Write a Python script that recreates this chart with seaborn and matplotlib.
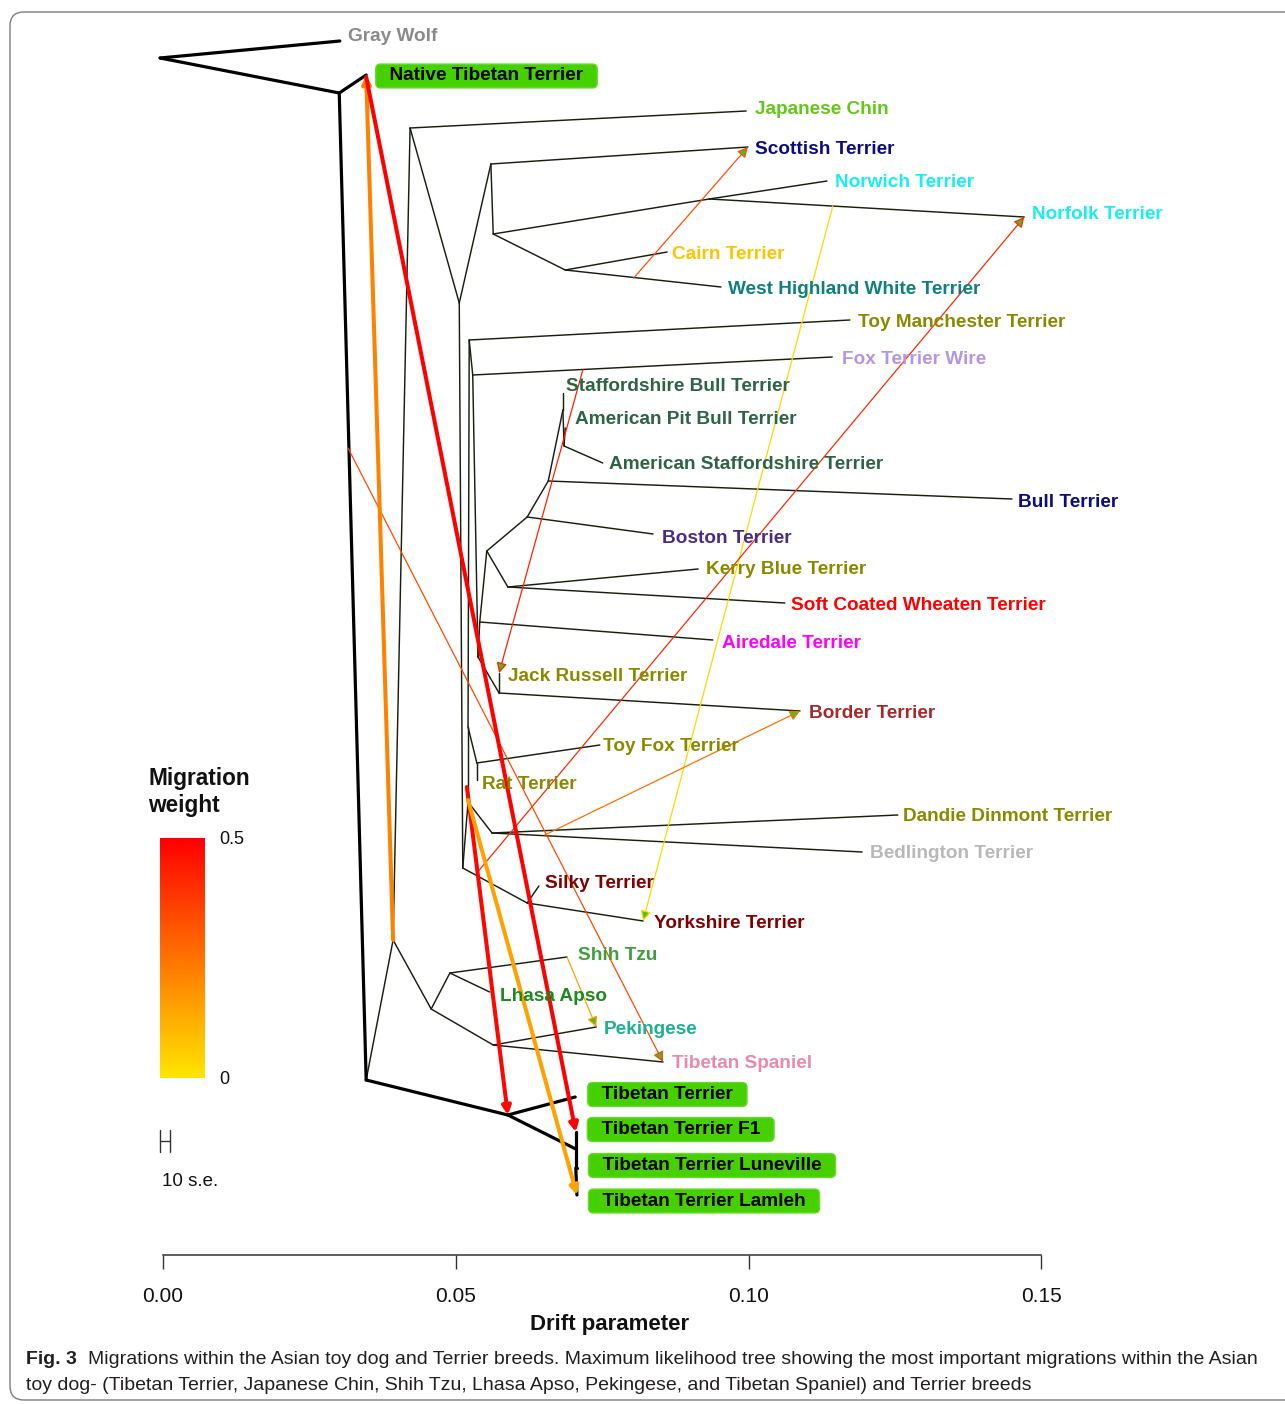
import numpy as np
import pandas as pd
import matplotlib
matplotlib.use("Agg")
import matplotlib.pyplot as plt
import seaborn as sns
from matplotlib.colors import LinearSegmentedColormap
from matplotlib.patches import FancyBboxPatch
from matplotlib.transforms import IdentityTransform

# ------------------------------------------------------------------ data
# tree nodes: drift parameter (x) and display row (y, top = 0)
node_ids = [
    "root", "Gray Wolf", "A", "Native Tibetan Terrier", "B", "C", "D", "Japanese Chin",
    "H", "I", "Scottish Terrier", "J", "K", "Norwich Terrier", "Norfolk Terrier",
    "L", "Cairn Terrier", "West Highland White Terrier", "M", "N", "Silky Terrier",
    "Yorkshire Terrier", "S", "U", "Dandie Dinmont Terrier", "Bedlington Terrier",
    "V", "W", "Toy Fox Terrier", "Rat Terrier", "O", "Toy Manchester Terrier", "P",
    "Fox Terrier Wire", "Q", "X", "Jack Russell Terrier", "Border Terrier", "Y",
    "Airedale Terrier", "Z", "AA", "Kerry Blue Terrier", "Soft Coated Wheaten Terrier",
    "AB", "Boston Terrier", "AC", "Bull Terrier", "AE", "Staffordshire Bull Terrier",
    "AF", "American Pit Bull Terrier", "American Staffordshire Terrier",
    "E", "F", "Shih Tzu", "Lhasa Apso", "G", "Pekingese", "Tibetan Spaniel",
    "TT1", "Tibetan Terrier", "TT2", "Tibetan Terrier F1", "TT3",
    "Tibetan Terrier Luneville", "Tibetan Terrier Lamleh",
]
node_drift = [
    -0.0005, 0.0302, 0.0301, 0.0347, 0.0347, 0.0393, 0.0422, 0.0996,
    0.0506, 0.0560, 0.0999, 0.0564, 0.0933, 0.1134, 0.1471,
    0.0687, 0.0861, 0.0953, 0.0512, 0.0622, 0.0642,
    0.0820, 0.0521, 0.0562, 0.1255, 0.1194,
    0.0521, 0.0536, 0.0746, 0.0536, 0.0523, 0.1173, 0.0529,
    0.1143, 0.0538, 0.0574, 0.0574, 0.1088, 0.0541,
    0.0939, 0.0553, 0.0589, 0.0914, 0.1062,
    0.0622, 0.0837, 0.0658, 0.1450, 0.0683, 0.0683,
    0.0685, 0.0687, 0.0751,
    0.0458, 0.0490, 0.0690, 0.0558, 0.0564, 0.0740, 0.0854,
    0.0589, 0.0704, 0.0705, 0.0705, 0.0705,
    0.0707, 0.0707,
]
node_row = [
    58, 41, 93, 75, 1080, 940, 128, 111,
    303, 164, 147, 234, 199, 181, 217,
    270, 252, 287, 868, 903, 886,
    921, 802, 833, 815, 852,
    727, 763, 745, 780, 340, 320, 375,
    357, 657, 693, 673, 711, 622,
    640, 551, 587, 569, 603,
    517, 534, 481, 499, 410, 393,
    446, 428, 463,
    1009, 973, 957, 992, 1045, 1027, 1062,
    1115, 1097, 1149, 1132, 1168,
    1168, 1195,
]

thick_parent = ["root", "root", "A", "A", "B", "TT1", "TT1", "TT2", "TT2", "TT3", "TT3"]
thick_child = ["Gray Wolf", "A", "Native Tibetan Terrier", "B", "TT1", "Tibetan Terrier",
               "TT2", "Tibetan Terrier F1", "TT3", "Tibetan Terrier Luneville",
               "Tibetan Terrier Lamleh"]

thin_parent = ["B", "C", "C", "D", "D", "H", "I", "I", "J", "K", "K", "J", "L", "L",
               "H", "M", "N", "N", "M", "S", "U", "U", "S", "V", "W", "W", "V",
               "O", "O", "P", "P", "Q", "X", "X", "Q", "Y", "Y", "Z", "AA", "AA",
               "Z", "AB", "AB", "AC", "AC", "AE", "AE", "AF", "AF",
               "E", "F", "F", "E", "G", "G"]
thin_child = ["C", "D", "E", "Japanese Chin", "H", "I", "Scottish Terrier", "J", "K",
              "Norwich Terrier", "Norfolk Terrier", "L", "Cairn Terrier",
              "West Highland White Terrier", "M", "N", "Silky Terrier",
              "Yorkshire Terrier", "S", "U", "Dandie Dinmont Terrier",
              "Bedlington Terrier", "V", "W", "Toy Fox Terrier", "Rat Terrier", "O",
              "Toy Manchester Terrier", "P", "Fox Terrier Wire", "Q", "X",
              "Jack Russell Terrier", "Border Terrier", "Y", "Airedale Terrier", "Z",
              "AA", "Kerry Blue Terrier", "Soft Coated Wheaten Terrier", "AB",
              "Boston Terrier", "AC", "Bull Terrier", "AE", "Staffordshire Bull Terrier",
              "AF", "American Pit Bull Terrier", "American Staffordshire Terrier",
              "F", "Shih Tzu", "Lhasa Apso", "G", "Pekingese", "Tibetan Spaniel"]

# migration events: source point on the tree -> target node, with weight
mig_source_drift = [0.0804, 0.1144, 0.0536, 0.0717, 0.0316, 0.0652, 0.0690,
                    0.0393, 0.0347, 0.0519, 0.0521]
mig_source_row = [278, 206, 873, 370, 448, 835, 957, 940, 77, 787, 800]
mig_target = ["Scottish Terrier", "Yorkshire Terrier", "Norfolk Terrier",
              "Jack Russell Terrier", "Tibetan Spaniel", "Border Terrier", "Pekingese",
              "Native Tibetan Terrier", "Tibetan Terrier F1", "TT1",
              "Tibetan Terrier Lamleh"]
mig_weight = [0.33, 0.03, 0.41, 0.43, 0.34, 0.26, 0.15, 0.22, 0.50, 0.49, 0.15]

label_names = ["Gray Wolf", "Japanese Chin", "Scottish Terrier", "Norwich Terrier",
               "Norfolk Terrier", "Cairn Terrier", "West Highland White Terrier",
               "Toy Manchester Terrier", "Fox Terrier Wire", "Staffordshire Bull Terrier",
               "American Pit Bull Terrier", "American Staffordshire Terrier",
               "Bull Terrier", "Boston Terrier", "Kerry Blue Terrier",
               "Soft Coated Wheaten Terrier", "Airedale Terrier", "Jack Russell Terrier",
               "Border Terrier", "Toy Fox Terrier", "Rat Terrier",
               "Dandie Dinmont Terrier", "Bedlington Terrier", "Silky Terrier",
               "Yorkshire Terrier", "Shih Tzu", "Lhasa Apso", "Pekingese",
               "Tibetan Spaniel"]
label_colors = ["#8a8a8a", "#62c81a", "#0c0c80", "#18eef0", "#18eef0", "#ffc400",
                "#0f8080", "#8a8a00", "#b497e0", "#2d6443", "#2d6443", "#2d6443",
                "#0c0c80", "#4a2c82", "#8a8a00", "#ff0000", "#ff00ff", "#8a8a00",
                "#a52a2a", "#8a8a00", "#8a8a00", "#8a8a00", "#b8b8b8", "#800000",
                "#800000", "#3ca03c", "#1e8a1e", "#1eb092", "#e88aaa"]
boxed_names = ["Native Tibetan Terrier", "Tibetan Terrier", "Tibetan Terrier F1",
               "Tibetan Terrier Luneville", "Tibetan Terrier Lamleh"]

x_ticks = [0.00, 0.05, 0.10, 0.15]
x_tick_labels = ["0.00", "0.05", "0.10", "0.15"]
weight_ticks = [0.0, 0.5]
weight_tick_labels = ["0", "0.5"]

caption_head = "Fig. 3"
caption_line1 = ("Migrations within the Asian toy dog and Terrier breeds. Maximum likelihood "
                 "tree showing the most important migrations within the Asian")
caption_line2 = ("toy dog- (Tibetan Terrier, Japanese Chin, Shih Tzu, Lhasa Apso, Pekingese, "
                 "and Tibetan Spaniel) and Terrier breeds")

# ------------------------------------------------------------------ layout / style
W, H = 1285, 1404
PX_PER_DRIFT = 5855.0
X0 = 163
PT = 0.72  # points per pixel at dpi 100
LABEL_FS = 13.7

label_nudge_px = {
    "Gray Wolf": (8, 7), "Japanese Chin": (9, 4), "Scottish Terrier": (7, 0),
    "Norwich Terrier": (8, 1), "Norfolk Terrier": (8, 5), "Cairn Terrier": (5, 0),
    "West Highland White Terrier": (7, 0), "Toy Manchester Terrier": (8, 0),
    "Fox Terrier Wire": (10, 0), "Staffordshire Bull Terrier": (3, 9),
    "American Pit Bull Terrier": (10, 11), "American Staffordshire Terrier": (6, 1),
    "Bull Terrier": (6, -1), "Boston Terrier": (9, -2), "Kerry Blue Terrier": (8, 2),
    "Soft Coated Wheaten Terrier": (6, 0), "Airedale Terrier": (9, -1),
    "Jack Russell Terrier": (9, -1), "Border Terrier": (9, 0), "Toy Fox Terrier": (3, 1),
    "Rat Terrier": (5, -2), "Dandie Dinmont Terrier": (5, 1),
    "Bedlington Terrier": (8, 1), "Silky Terrier": (6, 5), "Yorkshire Terrier": (11, 0),
    "Shih Tzu": (11, 4), "Lhasa Apso": (10, -2), "Pekingese": (7, 0),
    "Tibetan Spaniel": (9, 1),
}
LABEL_DY_FIX = -2.5
box_nudge_px = {
    "Native Tibetan Terrier": (13, -1), "Tibetan Terrier": (16, 2.5),
    "Tibetan Terrier F1": (15, 2.5), "Tibetan Terrier Luneville": (15, 2.5),
    "Tibetan Terrier Lamleh": (15, -6),
}
mig_lw = [0.9, 0.9, 0.9, 0.9, 0.9, 0.9, 0.9, 2.9, 2.9, 2.9, 2.9]

sns.set_theme(style="white")
plt.rcParams["font.family"] = ["Liberation Sans", "DejaVu Sans"]
NARROW = ["Liberation Sans Narrow", "Liberation Sans", "DejaVu Sans"]

fig = plt.figure(figsize=(W / 100, H / 100), dpi=100)
ax = fig.add_axes([0, 0, 1, 1])
ax.set_facecolor("none")
fig.patch.set_facecolor("white")

pos = dict(zip(node_ids, zip(node_drift, node_row)))


def seg_frame(parents, children):
    rows = []
    for k, (p, c) in enumerate(zip(parents, children)):
        for n in (p, c):
            rows.append({"edge": k, "drift": pos[n][0], "row": pos[n][1]})
    return pd.DataFrame(rows)


sns.lineplot(data=seg_frame(thin_parent, thin_child), x="drift", y="row", units="edge",
             estimator=None, sort=False, color="#17200f", lw=1.05, ax=ax, legend=False)
sns.lineplot(data=seg_frame(thick_parent, thick_child), x="drift", y="row", units="edge",
             estimator=None, sort=False, color="black", lw=2.3, ax=ax, legend=False)

# migration arrows
cmap = LinearSegmentedColormap.from_list("mig", ["#ffe600", "#ff0000"])
for sd, sr, tgt, w, lw in zip(mig_source_drift, mig_source_row, mig_target, mig_weight, mig_lw):
    col = cmap(w / 0.5)
    ms = 11 if lw < 2 else 9
    ax.annotate("", xy=pos[tgt], xytext=(sd, sr), zorder=4,
                arrowprops=dict(arrowstyle="-|>,head_length=0.55,head_width=0.28",
                                lw=lw, ec=col, fc="#55b81e", shrinkA=0, shrinkB=0,
                                mutation_scale=ms))

# tip labels
for name, col in zip(label_names, label_colors):
    dx, dy = label_nudge_px[name]
    ax.annotate(name, xy=pos[name], xytext=(dx * PT, (dy + LABEL_DY_FIX) * PT),
                textcoords="offset points", ha="left", va="center", color=col,
                fontsize=LABEL_FS, fontweight="bold", zorder=5)

for name in boxed_names:
    dx, dy = box_nudge_px[name]
    ax.annotate(f"  {name}  ", xy=pos[name], xytext=(dx * PT, dy * PT),
                textcoords="offset points", ha="left", va="center", color="black",
                fontsize=LABEL_FS, fontweight="bold", zorder=6,
                bbox=dict(boxstyle="round,pad=0.18,rounding_size=0.25", fc="#46d000",
                          ec="#62dc2a", lw=1.0))

# scale bar (10 s.e.)
sb_x0, sb_x1 = -0.0005, 0.0012
ax.plot([sb_x0, sb_x0], [1130, 1152], color="#333333", lw=1.0)
ax.plot([sb_x1, sb_x1], [1130, 1152], color="#333333", lw=1.0)
ax.plot([sb_x0, sb_x1], [1141, 1141], color="#333333", lw=1.0)
ax.text(sb_x0 + 0.0003, 1181, "10 s.e.", ha="left", va="center", fontsize=13.5,
        color="#111111")

# axes
ax.set_xlim(-X0 / PX_PER_DRIFT, (W - X0) / PX_PER_DRIFT)
ax.set_ylim(H, 0)
for s in ["top", "right", "left"]:
    ax.spines[s].set_visible(False)
ax.spines["bottom"].set_position(("data", 1255))
ax.spines["bottom"].set_bounds(0, 0.15)
ax.spines["bottom"].set_color("#333333")
ax.spines["bottom"].set_linewidth(1.1)
ax.set_xticks(x_ticks)
ax.set_xticklabels(x_tick_labels)
ax.tick_params(axis="x", bottom=True, direction="out", length=10, width=1.0,
               color="#333333", pad=13, labelsize=15, labelcolor="#111111")
for lab in ax.get_xticklabels():
    lab.set_fontfamily(NARROW)
ax.set_yticks([])
ax.set_ylabel("")
ax.set_xlabel("Drift parameter", fontsize=16, fontweight="bold", color="#111111",
              fontfamily=NARROW)
ax.xaxis.set_label_coords(609.5 / W, 1 - 1314 / H)

# migration weight legend
fig.text(148 / W, 1 - 792 / H, "Migration\nweight", ha="left", va="center",
         fontsize=16.3, fontweight="bold", linespacing=1.2, color="#111111")
cax = fig.add_axes([160 / W, 1 - 1078 / H, 45 / W, 240 / H])
grad = np.linspace(0, 0.5, 256).reshape(-1, 1)
cax.imshow(grad, aspect="auto", cmap=cmap, origin="lower", extent=[0, 1, 0, 0.5],
           vmin=0, vmax=0.5)
for s in cax.spines.values():
    s.set_visible(False)
cax.set_xticks([])
cax.yaxis.tick_right()
cax.set_yticks(weight_ticks)
cax.set_yticklabels(weight_tick_labels)
cax.tick_params(axis="y", right=True, length=0, pad=10, labelsize=13, labelcolor="#111111")
for lab in cax.get_yticklabels():
    lab.set_fontfamily(NARROW)

# caption
fig.text(26 / W, 1 - 1360 / H, caption_head, ha="left", va="center", fontsize=14,
         fontweight="bold", color="#231f20", fontfamily=NARROW)
fig.text(88 / W, 1 - 1360 / H, caption_line1, ha="left", va="center", fontsize=14,
         color="#231f20", fontfamily=NARROW)
fig.text(26 / W, 1 - 1386 / H, caption_line2, ha="left", va="center", fontsize=14,
         color="#231f20", fontfamily=NARROW)

# frame
frame = FancyBboxPatch((10, 4), 1300, 1388, boxstyle="round,pad=0,rounding_size=14",
                       transform=IdentityTransform(), fill=False, ec="#7d7d7d", lw=1.0)
fig.patches.append(frame)

fig.savefig("out.png", dpi=100)
